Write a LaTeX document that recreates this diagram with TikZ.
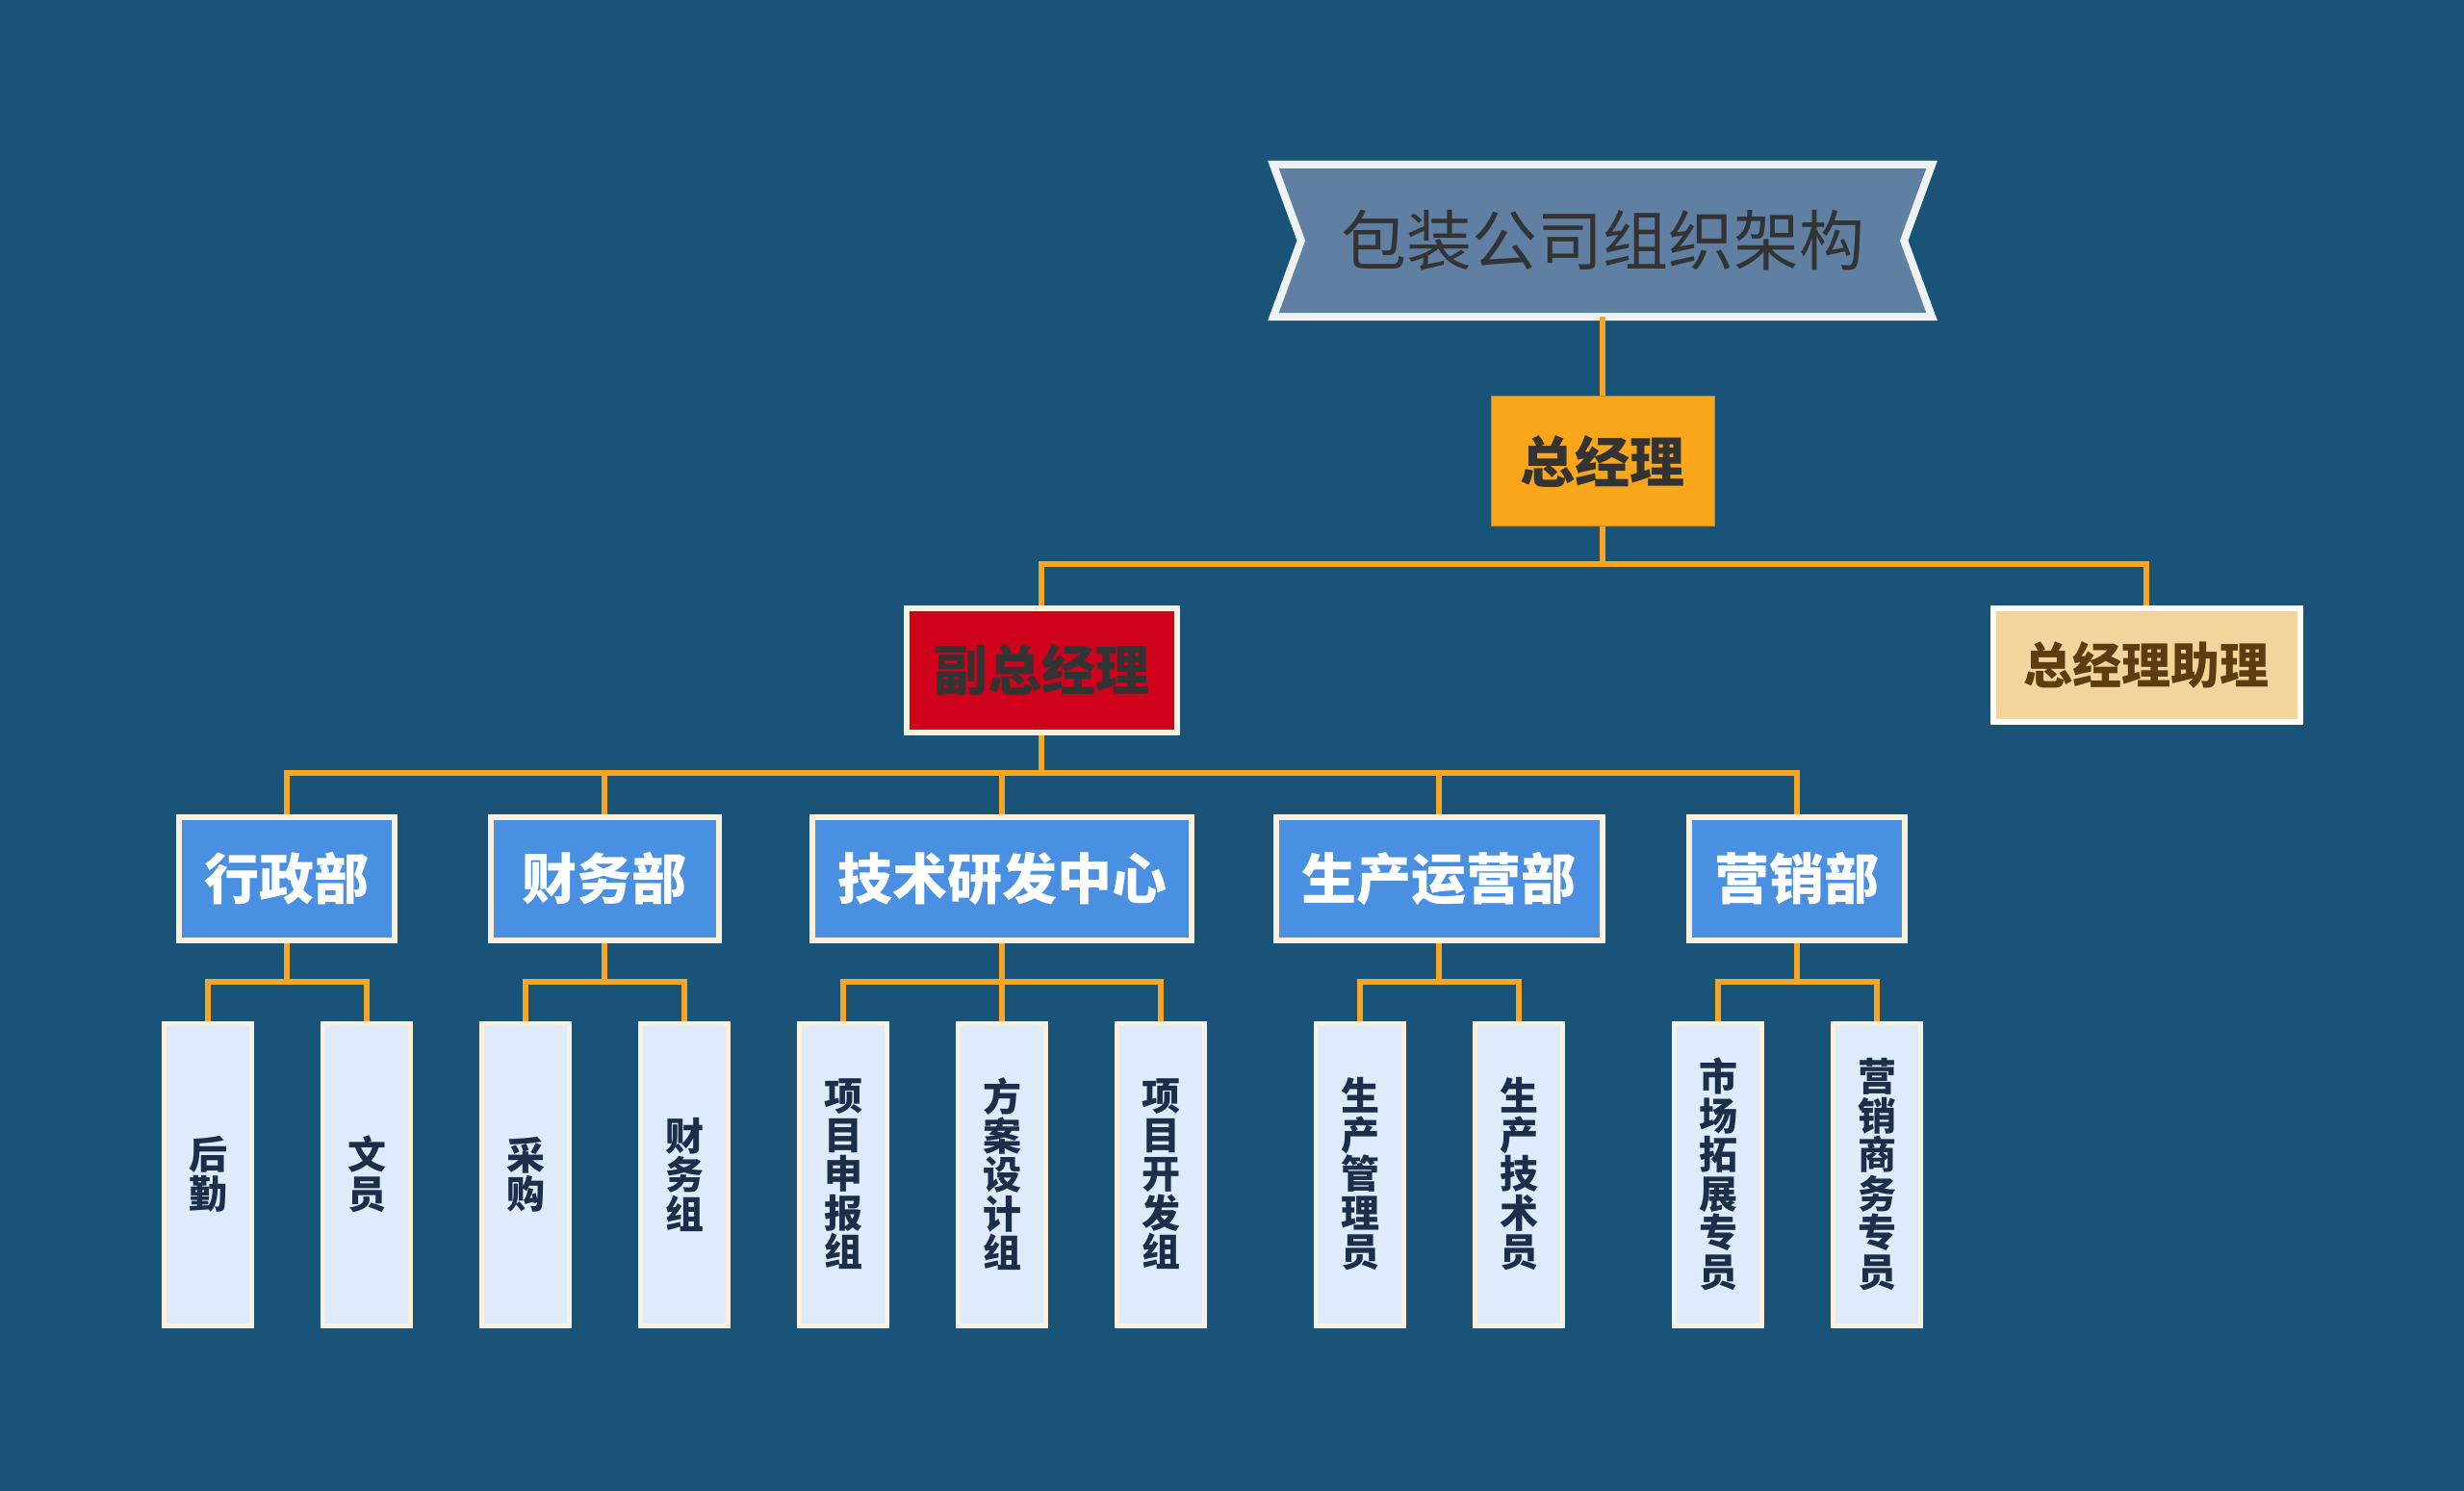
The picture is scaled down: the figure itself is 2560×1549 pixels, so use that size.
\documentclass[tikz,border=0pt]{standalone}
\usepackage{fontspec}
\newfontfamily\cjk{Noto Sans CJK SC}
\newfontfamily\cjkh{Noto Sans CJK SC Black}
\definecolor{bgc}{HTML}{1A5378}
\definecolor{lnc}{HTML}{F6A623}
\definecolor{creamc}{HTML}{FCF0DC}
\definecolor{bannerc}{HTML}{5F7FA3}
\definecolor{bannerlinec}{HTML}{EEF2F3}
\definecolor{orangec}{HTML}{FAA61A}
\definecolor{redc}{HTML}{D0021B}
\definecolor{asstfillc}{HTML}{F2D49C}
\definecolor{assttextc}{HTML}{5E3C10}
\definecolor{deptc}{HTML}{4A90E2}
\definecolor{leaffillc}{HTML}{DDEBFA}
\definecolor{leaftextc}{HTML}{1C2E4A}
\definecolor{darktextc}{HTML}{333333}
\pgfdeclarelayer{bglayer}
\pgfdeclarelayer{lines}
\pgfsetlayers{bglayer,lines,main}
\begin{document}
\begin{tikzpicture}[x=1pt,y=-1pt,
  conn/.style={draw=lnc,line width=5.5pt},
  boxbase/.style={inner sep=0pt,align=center},
  mgrbox/.style={boxbase,fill=orangec,draw=orangec!80!black,line width=1pt,
    minimum width=232,minimum height=135,text=darktextc,
    font=\cjkh\fontsize{57pt}{60pt}\selectfont},
  vicebox/.style={boxbase,fill=redc,draw=creamc,line width=6pt,
    minimum width=281,minimum height=129,text=darktextc,
    font=\cjkh\fontsize{56pt}{60pt}\selectfont},
  asstbox/.style={boxbase,fill=asstfillc,draw=white,line width=6pt,
    minimum width=319,minimum height=118,text=assttextc,
    font=\cjkh\fontsize{51pt}{55pt}\selectfont},
  deptbox/.style={boxbase,fill=deptc,draw=creamc,line width=6pt,
    minimum height=128,text=white,
    font=\cjkh\fontsize{57pt}{60pt}\selectfont},
  leafbox/.style={boxbase,fill=leaffillc,draw=creamc,line width=5pt,
    minimum width=91,minimum height=314,text=leaftextc,
    font=\cjkh\fontsize{40pt}{40.5pt}\selectfont},
  titlebox/.style={boxbase,minimum width=684,minimum height=158,text=darktextc,
    font=\cjk\fontsize{68pt}{70pt}\selectfont},
  bannerpath/.style={fill=bannerc,draw=bannerlinec,line width=8pt,line join=miter}
]
\begin{pgfonlayer}{bglayer}
\fill[bgc] (0,0) rectangle (2560,1549);
\end{pgfonlayer}
\useasboundingbox (0,0) rectangle (2560,1549);

% title and managers
\node[titlebox] (title) at (1665,250) {包装公司组织架构};
\node[mgrbox] (zjl) at (1665,479) {总经理};
\node[vicebox] (fzjl) at (1082,696) {副总经理};
\node[asstbox] (asst) at (2230,691) {总经理助理};

% departments
\node[deptbox,minimum width=224] (d1) at (298,913) {行政部};
\node[deptbox,minimum width=237] (d2) at (628,913) {财务部};
\node[deptbox,minimum width=394] (d3) at (1041,913) {技术研发中心};
\node[deptbox,minimum width=339] (d4) at (1495,913) {生产运营部};
\node[deptbox,minimum width=224] (d5) at (1867,913) {营销部};

% leaves
\node[leafbox] (l1) at (216,1220) {后\\勤};
\node[leafbox] (l2) at (381,1220) {文\\员};
\node[leafbox] (l3) at (546,1220) {采\\购};
\node[leafbox] (l4) at (711,1220) {财\\务\\组};
\node[leafbox] (l5) at (876,1220) {项\\目\\申\\报\\组};
\node[leafbox] (l6) at (1041,1220) {方\\案\\设\\计\\组};
\node[leafbox] (l7) at (1206,1220) {项\\目\\开\\发\\组};
\node[leafbox] (l8) at (1413,1220) {生\\产\\管\\理\\员};
\node[leafbox] (l9) at (1578,1220) {生\\产\\技\\术\\员};
\node[leafbox] (l10) at (1785,1220) {市\\场\\拓\\展\\专\\员};
\node[leafbox] (l11) at (1950,1220) {营\\销\\商\\务\\专\\员};

\coordinate (b1) at (0,586);
\coordinate (b2) at (0,803);
\coordinate (b3) at (0,1020);

\begin{pgfonlayer}{lines}
\draw[bannerpath] (title.north west) -- (title.north east) -- ([xshift=-29pt]title.east)
  -- (title.south east) -- (title.south west) -- ([xshift=29pt]title.west) -- cycle;
\draw[conn] (title.south) -- (zjl.north);
\draw[conn] (zjl.south) -- (zjl.south |- b1);
\draw[conn] (fzjl.north) -- (fzjl.north |- b1) -| (asst.north);
\draw[conn] (fzjl.south) -- (fzjl.south |- b2);
\draw[conn] (d1.north) -- (d1.north |- b2) -| (d5.north);
\draw[conn] (d2.north) -- (d2.north |- b2);
\draw[conn] (d3.north) -- (d3.north |- b2);
\draw[conn] (d4.north) -- (d4.north |- b2);
\draw[conn] (d1.south) -- (d1.south |- b3);
\draw[conn] (l1.north) -- (l1.north |- b3) -| (l2.north);
\draw[conn] (d2.south) -- (d2.south |- b3);
\draw[conn] (l3.north) -- (l3.north |- b3) -| (l4.north);
\draw[conn] (d3.south) -- (d3.south |- b3);
\draw[conn] (l5.north) -- (l5.north |- b3) -| (l7.north);
\draw[conn] (l6.north) -- (l6.north |- b3);
\draw[conn] (d4.south) -- (d4.south |- b3);
\draw[conn] (l8.north) -- (l8.north |- b3) -| (l9.north);
\draw[conn] (d5.south) -- (d5.south |- b3);
\draw[conn] (l10.north) -- (l10.north |- b3) -| (l11.north);
\end{pgfonlayer}
\end{tikzpicture}
\end{document}
